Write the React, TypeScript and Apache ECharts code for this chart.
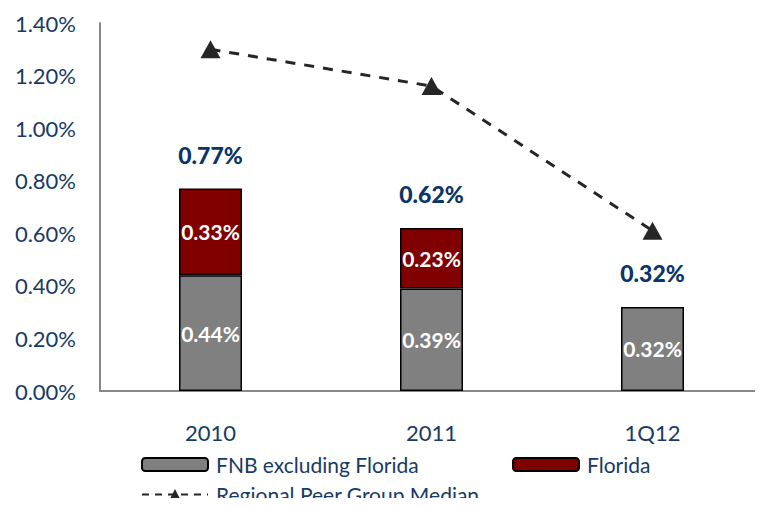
import React, { useEffect, useRef } from "react";
import * as echarts from "echarts";

const categories = ["2010", "2011", "1Q12"];
const fnbExFlorida = [0.44, 0.39, 0.32];
const florida: (number | null)[] = [0.33, 0.23, null];
const totals = [0.77, 0.62, 0.32];
const peerMedian = [1.3, 1.16, 0.61];

const FONT = "Lato, 'Open Sans', sans-serif";
const BLUE = "#173A66";
const DARKBLUE = "#0B3568";

export default function App() {
  const ref = useRef<HTMLDivElement>(null);
  useEffect(() => {
    if (!ref.current) return;
    const chart = echarts.init(ref.current, null, { renderer: "svg" });
    const pct = (v: number) => v.toFixed(2) + "%";
    const legendText = { color: BLUE, fontSize: 21, fontFamily: FONT, padding: [0, 0, 0, 3] };
    chart.setOption({
      animation: false,
      textStyle: { fontFamily: FONT },
      grid: { left: 100, top: 23, bottom: 115, right: -4 },
      legend: [
        {
          data: ["FNB excluding Florida"],
          left: 141,
          top: 454,
          padding: 0,
          itemWidth: 66,
          itemHeight: 13,
          textStyle: legendText,
        },
        {
          data: ["Florida"],
          left: 512,
          top: 454,
          padding: 0,
          itemWidth: 66,
          itemHeight: 13,
          textStyle: legendText,
        },
        {
          data: ["Regional Peer Group Median"],
          left: 141,
          top: 484,
          padding: 0,
          itemWidth: 66,
          itemHeight: 14,
          lineStyle: { type: [7, 6], width: 2 },
          textStyle: { ...legendText, lineHeight: 21 },
        },
      ],
      xAxis: {
        type: "category",
        data: categories,
        axisLine: { show: true, lineStyle: { color: "#888888", width: 2 } },
        axisTick: { show: false },
        axisLabel: { color: BLUE, fontSize: 22, fontFamily: FONT, margin: 30 },
      },
      yAxis: {
        type: "value",
        min: 0,
        max: 1.4,
        interval: 0.2,
        splitLine: { show: false },
        axisLine: { show: true, lineStyle: { color: "#888888", width: 2 } },
        axisTick: { show: false },
        axisLabel: {
          color: BLUE,
          fontSize: 22,
          fontFamily: FONT,
          margin: 24,
          formatter: (v: number) => pct(v),
        },
      },
      series: [
        {
          name: "FNB excluding Florida",
          type: "bar",
          stack: "a",
          barWidth: 63,
          data: fnbExFlorida,
          itemStyle: { color: "#808080", borderColor: "#000000", borderWidth: 1.5 },
          label: {
            show: true,
            position: "inside",
            color: "#ffffff",
            fontWeight: "bold",
            fontSize: 21,
            fontFamily: FONT,
            formatter: (p: any) => pct(p.value),
          },
        },
        {
          name: "Florida",
          type: "bar",
          stack: "a",
          barWidth: 63,
          data: florida,
          itemStyle: { color: "#800000", borderColor: "#000000", borderWidth: 1.5 },
          label: {
            show: true,
            position: "inside",
            color: "#ffffff",
            fontWeight: "bold",
            fontSize: 21,
            fontFamily: FONT,
            formatter: (p: any) => (p.value == null ? "" : pct(p.value)),
          },
        },
        {
          name: "Total",
          type: "scatter",
          data: totals,
          symbolSize: 1,
          silent: true,
          itemStyle: { color: "rgba(0,0,0,0)", opacity: 1 },
          label: {
            show: true,
            position: "top",
            distance: 22,
            color: DARKBLUE,
            opacity: 1,
            fontWeight: 900,
            fontSize: 23,
            fontFamily: FONT,
            formatter: (p: any) => pct(p.value),
          },
          z: 5,
        },
        {
          name: "Regional Peer Group Median",
          type: "line",
          data: peerMedian,
          symbol: "triangle",
          symbolSize: [20, 18],
          itemStyle: { color: "#262626" },
          lineStyle: { color: "#262626", width: 3, type: [10, 9] },
          z: 10,
        },
      ],
    });
    return () => chart.dispose();
  }, []);
  return <div ref={ref} style={{ width: 763, height: 506, margin: -8 }} />;
}
